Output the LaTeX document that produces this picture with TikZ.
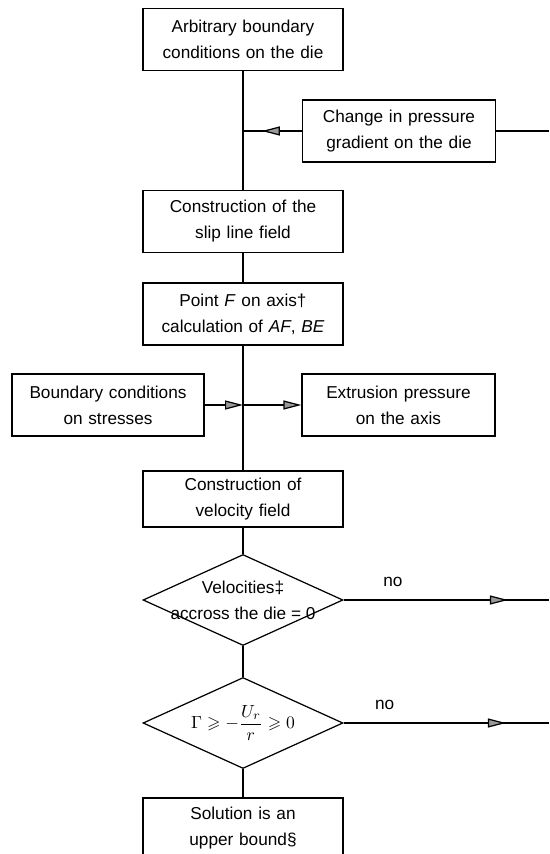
\documentclass[tikz,border=0pt]{standalone}
\usepackage{amsmath,amssymb}
\usepackage{fontspec}
\setmainfont{Liberation Sans}
\usetikzlibrary{shapes.geometric,arrows.meta,decorations.markings}

\begin{document}
\begin{tikzpicture}[
    x=0.02cm, y=-0.02cm,
    line width=0.7pt,
    font=\fontsize{9.8}{14.8}\selectfont,
    box/.style={rectangle, draw, text width=3.6cm, text centered, minimum width=4cm, minimum height=1.24cm, inner sep=2pt},
    sidebox/.style={rectangle, draw, text width=3.5cm, text centered, minimum width=3.86cm, minimum height=1.24cm, inner sep=2pt},
    decision/.style={diamond, draw, minimum width=4cm, minimum height=1.82cm, inner sep=0pt},
    arrowend/.style={-{Triangle[length=3.6mm, width=1.8mm, fill=black!40]}},
    arrowmid/.style={postaction={decorate}, decoration={markings, mark=at position #1 with {\arrow{Triangle[length=3.6mm, width=1.8mm, fill=black!40]}}}}
]
\useasboundingbox (0,0) rectangle (549,854);

% Main column
\node[box] (arb) at (243,39.5) {Arbitrary boundary\\conditions on the die};
\node[box] (slip) at (243,221.5) {Construction of the\\slip line field};
\node[box] (point) at (243,314) {Point \textit{F} on axis\textdagger\\calculation of \textit{AF}, \textit{BE}};
\node[box, minimum height=1.12cm] (velf) at (243,499) {Construction of\\velocity field};
\node[decision, label={[align=center]center:Velocities\textdaggerdbl\\accross the die = 0}] (dec1) at (243,600) {};
\node[decision, label={center:$\Gamma \geqslant -\dfrac{U_r}{r} \geqslant 0$}] (dec2) at (243,723) {};
\node[box, minimum height=1.2cm] (sol) at (243,828) {Solution is an\\upper bound\S};

% Side boxes
\node[sidebox] (chg) at (399,131) {Change in pressure\\gradient on the die};
\node[sidebox, minimum width=3.84cm] (bcs) at (108,405) {Boundary conditions\\on stresses};
\node[sidebox] (ext) at (398.5,405) {Extrusion pressure\\on the axis};

% Junctions and loose ends
\coordinate (j1) at (243,131);
\coordinate (j2) at (243,405);
\coordinate (r1) at (549,131);
\coordinate (r2) at (549,600);
\coordinate (r3) at (549,723);

% Connectors
\draw (arb) -- (slip);
\draw (slip) -- (point);
\draw (point) -- (velf);
\draw (velf) -- (dec1);
\draw (dec1) -- (dec2);
\draw (dec2) -- (sol);
\draw[arrowmid=0.68] (chg.west) -- (j1);
\draw (chg.east) -- (r1);
\draw[arrowend] (bcs.east) -- (j2);
\draw[arrowend] (j2) -- (ext.west);
\draw[arrowmid=0.8] (dec1.east) -- node[above=4pt, pos=0.24] {no} (r2);
\draw[arrowmid=0.79] (dec2.east) -- node[above=4pt, pos=0.2] {no} (r3);

\end{tikzpicture}
\end{document}
